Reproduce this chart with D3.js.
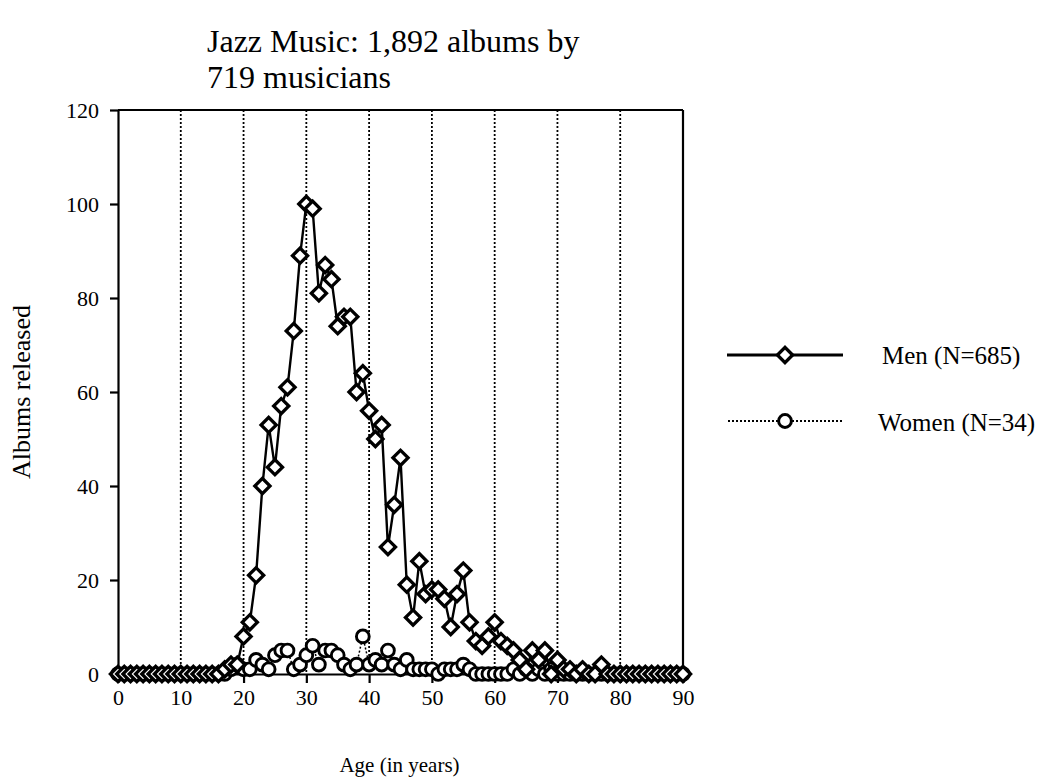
<!DOCTYPE html>
<html>
<head>
<meta charset="utf-8">
<script src="https://cdn.jsdelivr.net/npm/d3@7"></script>
<style>
  body { margin: 0; background: white; }
  svg text { font-family: "Liberation Serif", "Times New Roman", serif !important; fill: black; }
</style>
</head>
<body>
<script>
// ages 0..90, one point per year
var ages = d3.range(0, 91);

var men = [0,0,0,0,0,0,0,0,0,0, 0,0,0,0,0,0,0,1,2,2,
  8,11,21,40,53,44,57,61,73,89, 100,99,81,87,84,74,76,76,60,64,
  56,50,53,27,36,46,19,12,24,17, 18,18,16,10,17,22,11,7,6,8,
  11,7,6,5,3,1,5,3,5,0, 3,1,1,0,1,0,0,2,0,0,
  0,0,0,0,0,0,0,0,0,0, 0];

var women = [0,0,0,0,0,0,0,0,0,0, 0,0,0,0,0,0,0,0,1,2,
  1,1,3,2,1,4,5,5,1,2, 4,6,2,5,5,4,2,1,2,8,
  2,3,2,5,2,1,3,1,1,1, 1,0,1,1,1,2,1,0,0,0,
  0,0,0,1,0,1,0,1,0,1, 0,0,0,0,0,0,0,0,0,0,
  0,0,0,0,0,0,0,0,0,0, 0];

var xTicks = [0,10,20,30,40,50,60,70,80,90];
var yTicks = [0,20,40,60,80,100,120];
var legendLabels = ["Men (N=685)", "Women (N=34)"];

var width = 1044, height = 783;
var svg = d3.select("body").append("svg")
    .attr("width", width)
    .attr("height", height);

var x = d3.scaleLinear().domain([0, 90]).range([118, 683]);
var y = d3.scaleLinear().domain([0, 120]).range([674, 110]);

// title
var title = svg.append("text")
    .attr("x", 207)
    .attr("y", 52)
    .style("font-size", "32px");
title.append("tspan").attr("x", 207).text("Jazz Music: 1,892 albums by");
title.append("tspan").attr("x", 207).attr("dy", 36).text("719 musicians");

// dotted vertical grid
svg.selectAll("line.grid")
    .data(xTicks.slice(1, -1))
    .enter().append("line")
    .attr("class", "grid")
    .attr("x1", d => x(d)).attr("x2", d => x(d))
    .attr("y1", y(120)).attr("y2", y(0))
    .attr("stroke", "black")
    .attr("stroke-width", 1.8)
    .attr("stroke-dasharray", "2,2");

// axes
var xAxis = svg.append("g")
    .attr("transform", "translate(0," + y(0) + ")")
    .call(d3.axisBottom(x).tickValues(xTicks).tickSize(9).tickPadding(6).tickSizeOuter(0));
var yAxis = svg.append("g")
    .attr("transform", "translate(" + x(0) + ",0)")
    .call(d3.axisLeft(y).tickValues(yTicks).tickSize(8).tickPadding(11).tickSizeOuter(0));
[xAxis, yAxis].forEach(g => {
    g.select(".domain").attr("stroke-width", 2.2);
    g.selectAll(".tick line").attr("stroke-width", 2.2);
    g.selectAll(".tick text").style("font-size", "22px");
});

// top and right frame
svg.append("line").attr("x1", x(0)).attr("x2", x(90)).attr("y1", y(120)).attr("y2", y(120))
    .attr("stroke", "black").attr("stroke-width", 2.2);
svg.append("line").attr("x1", x(90)).attr("x2", x(90)).attr("y1", y(120)).attr("y2", y(0))
    .attr("stroke", "black").attr("stroke-width", 2.2);

// axis titles
svg.append("text")
    .attr("transform", "translate(30," + y(60) + ") rotate(-90)")
    .attr("text-anchor", "middle")
    .style("font-size", "26px")
    .text("Albums released");
svg.append("text")
    .attr("x", x(45) - 1)
    .attr("y", 772)
    .attr("text-anchor", "middle")
    .style("font-size", "21px")
    .text("Age (in years)");

var line = d3.line().x((d, i) => x(ages[i])).y(d => y(d));
var diamond = d3.symbol().type(d3.symbolSquare).size(115);

// women series
svg.append("path")
    .datum(women)
    .attr("d", line)
    .attr("fill", "none")
    .attr("stroke", "black")
    .attr("stroke-width", 1.5)
    .attr("stroke-dasharray", "2,2");
svg.selectAll("circle.women")
    .data(women)
    .enter().append("circle")
    .attr("class", "women")
    .attr("cx", (d, i) => x(ages[i]))
    .attr("cy", d => y(d))
    .attr("r", 6.4)
    .attr("fill", "white")
    .attr("stroke", "black")
    .attr("stroke-width", 2.9);

// men series
svg.append("path")
    .datum(men)
    .attr("d", line)
    .attr("fill", "none")
    .attr("stroke", "black")
    .attr("stroke-width", 2.4);
svg.selectAll("path.men")
    .data(men)
    .enter().append("path")
    .attr("class", "men")
    .attr("d", diamond)
    .attr("transform", (d, i) => "translate(" + x(ages[i]) + "," + y(d) + ") rotate(45)")
    .attr("fill", "white")
    .attr("stroke", "black")
    .attr("stroke-width", 3.3);

// legend
var legend = svg.append("g");
legend.append("line").attr("x1", 727).attr("x2", 843).attr("y1", 355).attr("y2", 355)
    .attr("stroke", "black").attr("stroke-width", 3);
legend.append("path").attr("d", diamond)
    .attr("transform", "translate(785,355) rotate(45)")
    .attr("fill", "white").attr("stroke", "black").attr("stroke-width", 3.4);
legend.append("line").attr("x1", 728).attr("x2", 843).attr("y1", 421).attr("y2", 421)
    .attr("stroke", "black").attr("stroke-width", 1.8).attr("stroke-dasharray", "2,2");
legend.append("circle").attr("cx", 785).attr("cy", 421).attr("r", 6.4)
    .attr("fill", "white").attr("stroke", "black").attr("stroke-width", 3);
legend.selectAll("text.leg")
    .data(legendLabels)
    .enter().append("text")
    .attr("class", "leg")
    .attr("x", (d, i) => i === 0 ? 882 : 878)
    .attr("y", (d, i) => i === 0 ? 364 : 431)
    .style("font-size", "25px")
    .text(d => d);
</script>
</body>
</html>
